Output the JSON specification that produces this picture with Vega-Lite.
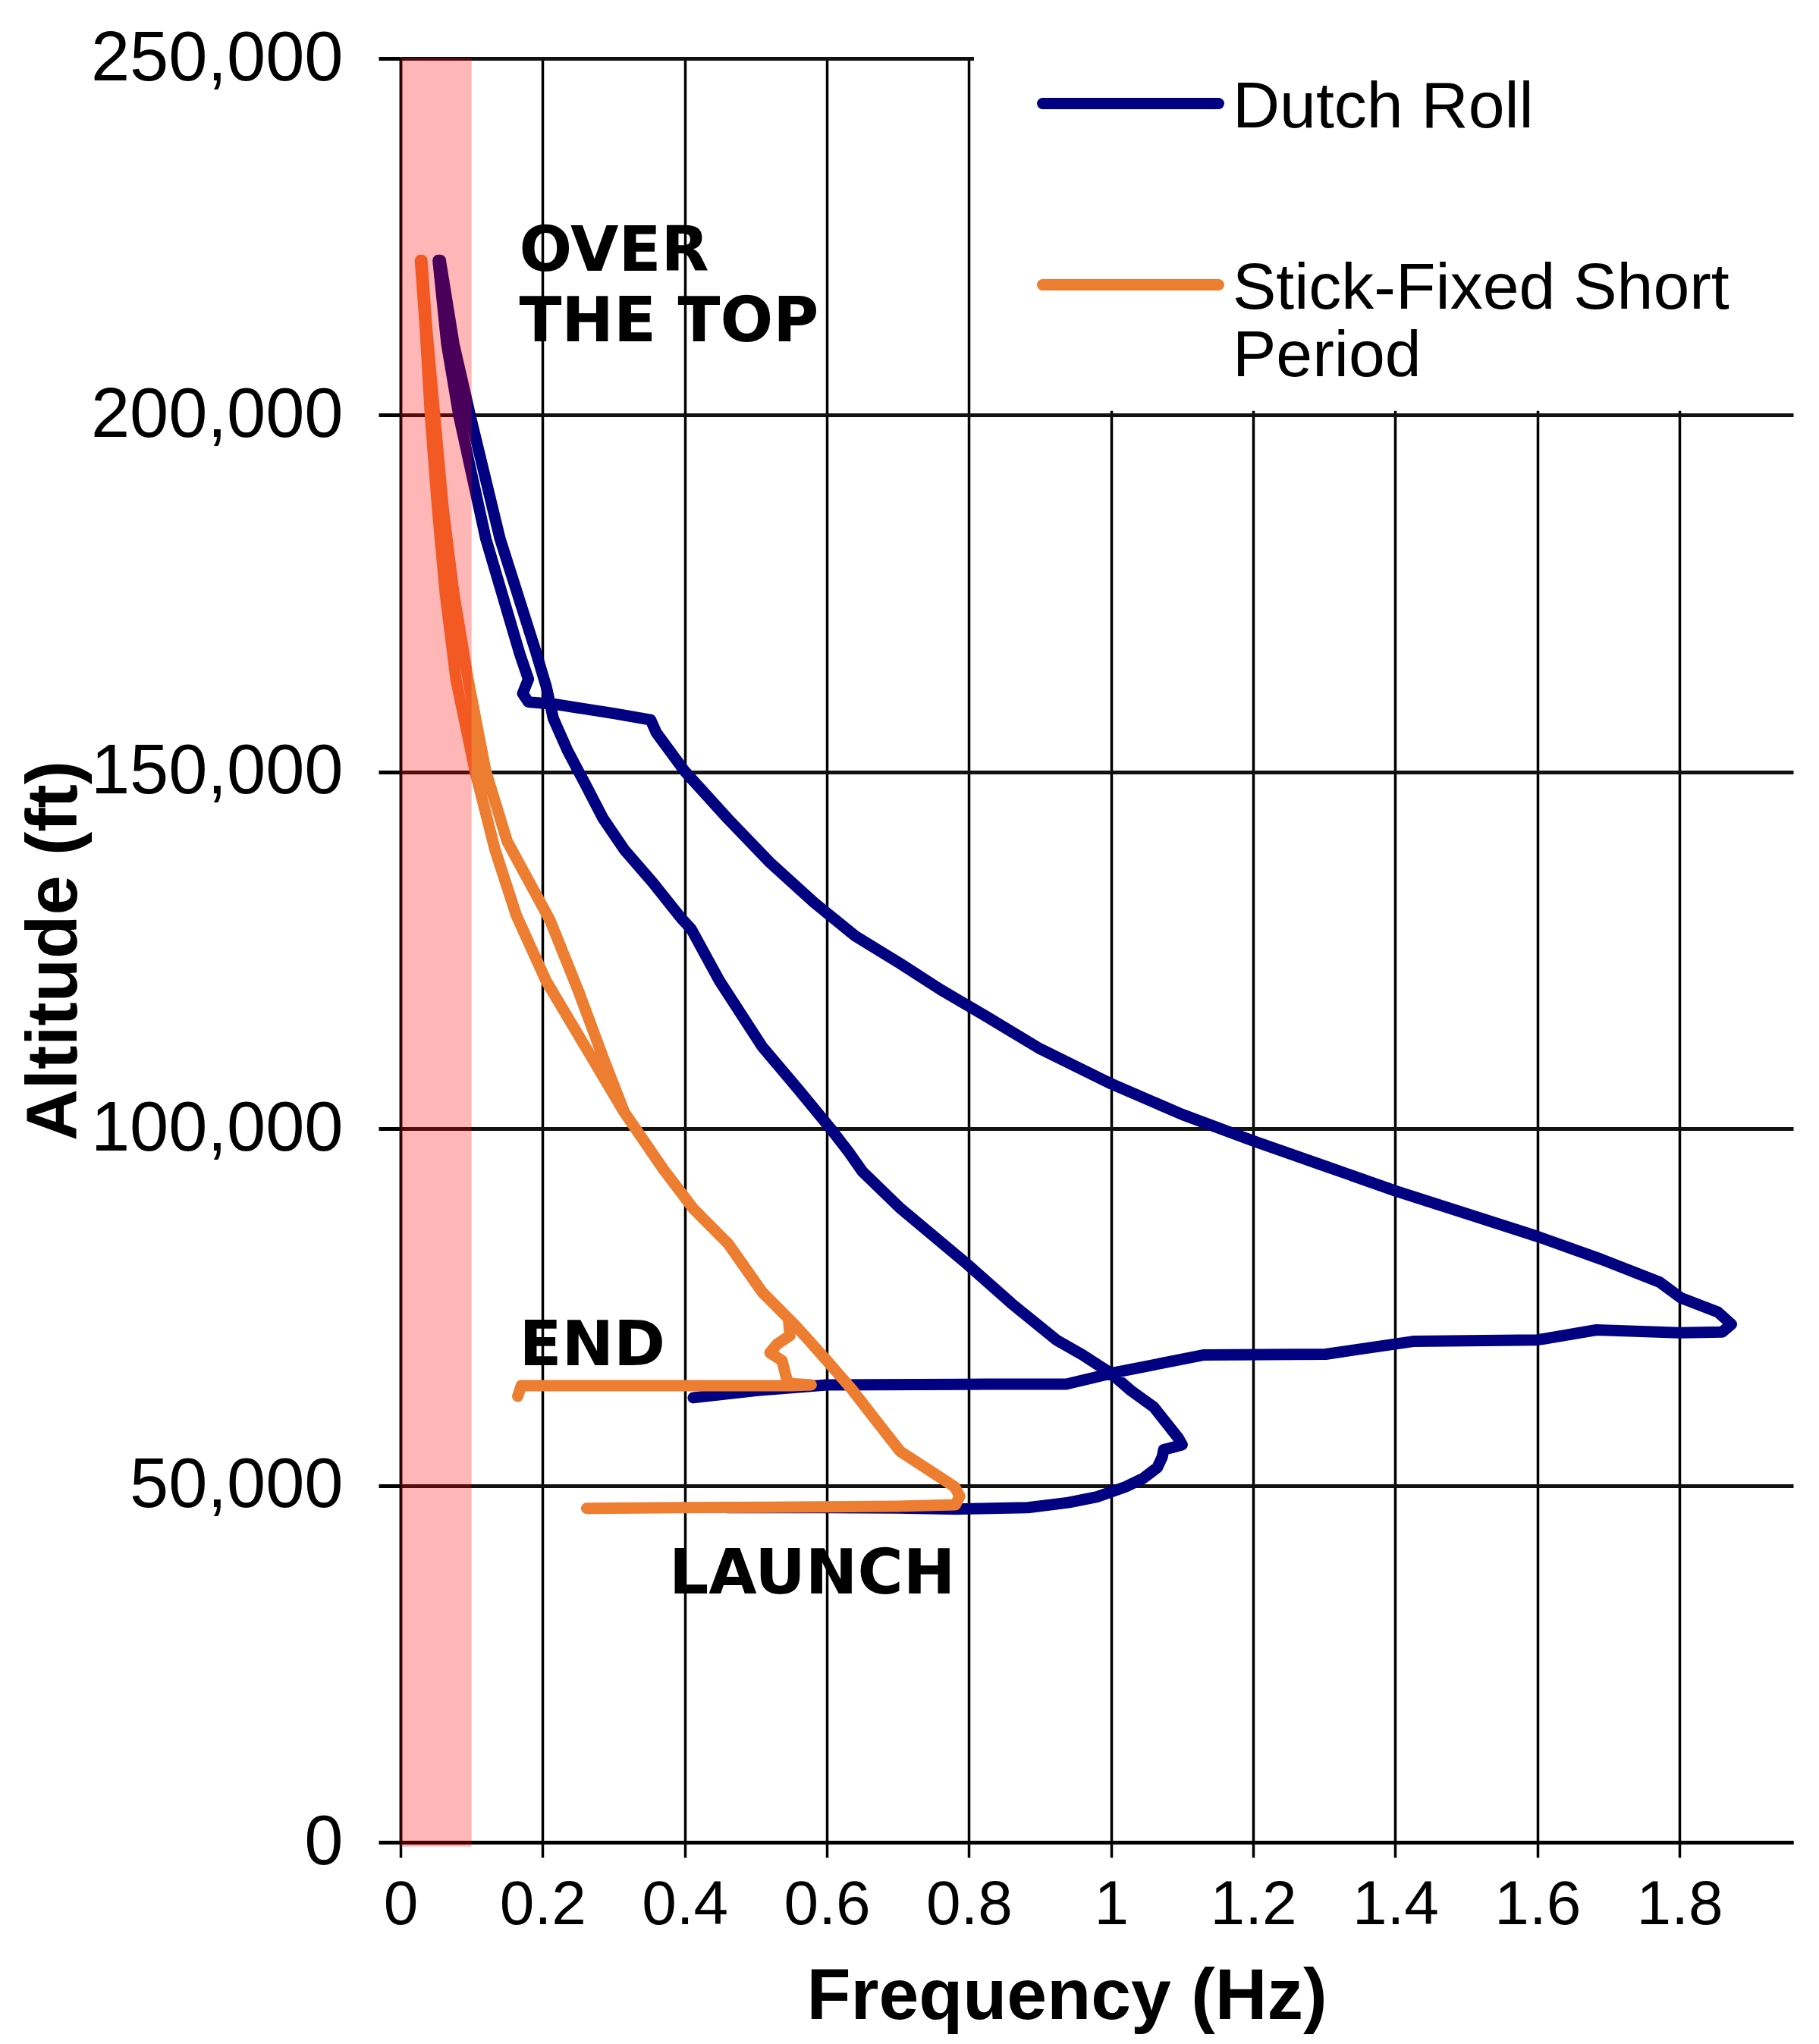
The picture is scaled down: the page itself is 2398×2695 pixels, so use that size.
{
  "$schema": "https://vega.github.io/schema/vega-lite/v6.json",
  "width": 1836,
  "height": 2352,
  "autosize": {"type": "none"},
  "padding": {"left": 528, "top": 77, "right": 34, "bottom": 266},
  "background": "white",
  "config": {"view": {"stroke": null}},
  "datasets": {
    "curves": [
      {"series": "Dutch Roll", "seq": 1, "freq": 0.46, "alt": 46900},
      {"series": "Dutch Roll", "seq": 2, "freq": 0.60, "alt": 46900},
      {"series": "Dutch Roll", "seq": 3, "freq": 0.70, "alt": 46850},
      {"series": "Dutch Roll", "seq": 4, "freq": 0.783, "alt": 46700},
      {"series": "Dutch Roll", "seq": 5, "freq": 0.883, "alt": 46900},
      {"series": "Dutch Roll", "seq": 6, "freq": 0.94, "alt": 47600},
      {"series": "Dutch Roll", "seq": 7, "freq": 0.98, "alt": 48400},
      {"series": "Dutch Roll", "seq": 8, "freq": 1.02, "alt": 49800},
      {"series": "Dutch Roll", "seq": 9, "freq": 1.045, "alt": 51000},
      {"series": "Dutch Roll", "seq": 10, "freq": 1.065, "alt": 52500},
      {"series": "Dutch Roll", "seq": 11, "freq": 1.072, "alt": 54000},
      {"series": "Dutch Roll", "seq": 12, "freq": 1.074, "alt": 55000},
      {"series": "Dutch Roll", "seq": 13, "freq": 1.085, "alt": 55300},
      {"series": "Dutch Roll", "seq": 14, "freq": 1.100, "alt": 55700},
      {"series": "Dutch Roll", "seq": 15, "freq": 1.095, "alt": 56600},
      {"series": "Dutch Roll", "seq": 16, "freq": 1.06, "alt": 61000},
      {"series": "Dutch Roll", "seq": 17, "freq": 1.028, "alt": 63300},
      {"series": "Dutch Roll", "seq": 18, "freq": 1.0, "alt": 65700},
      {"series": "Dutch Roll", "seq": 19, "freq": 0.96, "alt": 68300},
      {"series": "Dutch Roll", "seq": 20, "freq": 0.923, "alt": 70400},
      {"series": "Dutch Roll", "seq": 21, "freq": 0.86, "alt": 75500},
      {"series": "Dutch Roll", "seq": 22, "freq": 0.80, "alt": 80800},
      {"series": "Dutch Roll", "seq": 23, "freq": 0.704, "alt": 88800},
      {"series": "Dutch Roll", "seq": 24, "freq": 0.65, "alt": 94000},
      {"series": "Dutch Roll", "seq": 25, "freq": 0.631, "alt": 96700},
      {"series": "Dutch Roll", "seq": 26, "freq": 0.607, "alt": 99800},
      {"series": "Dutch Roll", "seq": 27, "freq": 0.56, "alt": 105500},
      {"series": "Dutch Roll", "seq": 28, "freq": 0.509, "alt": 111500},
      {"series": "Dutch Roll", "seq": 29, "freq": 0.449, "alt": 120700},
      {"series": "Dutch Roll", "seq": 30, "freq": 0.409, "alt": 128000},
      {"series": "Dutch Roll", "seq": 31, "freq": 0.395, "alt": 129500},
      {"series": "Dutch Roll", "seq": 32, "freq": 0.355, "alt": 134500},
      {"series": "Dutch Roll", "seq": 33, "freq": 0.315, "alt": 139100},
      {"series": "Dutch Roll", "seq": 34, "freq": 0.285, "alt": 143500},
      {"series": "Dutch Roll", "seq": 35, "freq": 0.26, "alt": 148300},
      {"series": "Dutch Roll", "seq": 36, "freq": 0.235, "alt": 153000},
      {"series": "Dutch Roll", "seq": 37, "freq": 0.215, "alt": 157500},
      {"series": "Dutch Roll", "seq": 38, "freq": 0.205, "alt": 162000},
      {"series": "Dutch Roll", "seq": 39, "freq": 0.19, "alt": 167000},
      {"series": "Dutch Roll", "seq": 40, "freq": 0.14, "alt": 182700},
      {"series": "Dutch Roll", "seq": 41, "freq": 0.098, "alt": 200000},
      {"series": "Dutch Roll", "seq": 42, "freq": 0.075, "alt": 210000},
      {"series": "Dutch Roll", "seq": 43, "freq": 0.056, "alt": 221700},
      {"series": "Dutch Roll", "seq": 44, "freq": 0.053, "alt": 221700},
      {"series": "Dutch Roll", "seq": 45, "freq": 0.065, "alt": 210000},
      {"series": "Dutch Roll", "seq": 46, "freq": 0.082, "alt": 200000},
      {"series": "Dutch Roll", "seq": 47, "freq": 0.12, "alt": 182700},
      {"series": "Dutch Roll", "seq": 48, "freq": 0.168, "alt": 166500},
      {"series": "Dutch Roll", "seq": 49, "freq": 0.18, "alt": 163000},
      {"series": "Dutch Roll", "seq": 50, "freq": 0.172, "alt": 161000},
      {"series": "Dutch Roll", "seq": 51, "freq": 0.18, "alt": 159800},
      {"series": "Dutch Roll", "seq": 52, "freq": 0.217, "alt": 159500},
      {"series": "Dutch Roll", "seq": 53, "freq": 0.30, "alt": 158200},
      {"series": "Dutch Roll", "seq": 54, "freq": 0.352, "alt": 157300},
      {"series": "Dutch Roll", "seq": 55, "freq": 0.36, "alt": 155500},
      {"series": "Dutch Roll", "seq": 56, "freq": 0.40, "alt": 150100},
      {"series": "Dutch Roll", "seq": 57, "freq": 0.461, "alt": 143400},
      {"series": "Dutch Roll", "seq": 58, "freq": 0.52, "alt": 137300},
      {"series": "Dutch Roll", "seq": 59, "freq": 0.582, "alt": 131700},
      {"series": "Dutch Roll", "seq": 60, "freq": 0.64, "alt": 127000},
      {"series": "Dutch Roll", "seq": 61, "freq": 0.704, "alt": 123100},
      {"series": "Dutch Roll", "seq": 62, "freq": 0.76, "alt": 119500},
      {"series": "Dutch Roll", "seq": 63, "freq": 0.825, "alt": 115700},
      {"series": "Dutch Roll", "seq": 64, "freq": 0.90, "alt": 111200},
      {"series": "Dutch Roll", "seq": 65, "freq": 1.0, "alt": 106300},
      {"series": "Dutch Roll", "seq": 66, "freq": 1.1, "alt": 102000},
      {"series": "Dutch Roll", "seq": 67, "freq": 1.2, "alt": 98300},
      {"series": "Dutch Roll", "seq": 68, "freq": 1.3, "alt": 94800},
      {"series": "Dutch Roll", "seq": 69, "freq": 1.4, "alt": 91300},
      {"series": "Dutch Roll", "seq": 70, "freq": 1.5, "alt": 88100},
      {"series": "Dutch Roll", "seq": 71, "freq": 1.6, "alt": 84900},
      {"series": "Dutch Roll", "seq": 72, "freq": 1.69, "alt": 81700},
      {"series": "Dutch Roll", "seq": 73, "freq": 1.772, "alt": 78500},
      {"series": "Dutch Roll", "seq": 74, "freq": 1.802, "alt": 76300},
      {"series": "Dutch Roll", "seq": 75, "freq": 1.854, "alt": 74300},
      {"series": "Dutch Roll", "seq": 76, "freq": 1.873, "alt": 72600},
      {"series": "Dutch Roll", "seq": 77, "freq": 1.86, "alt": 71500},
      {"series": "Dutch Roll", "seq": 78, "freq": 1.80, "alt": 71400},
      {"series": "Dutch Roll", "seq": 79, "freq": 1.683, "alt": 71800},
      {"series": "Dutch Roll", "seq": 80, "freq": 1.6, "alt": 70400},
      {"series": "Dutch Roll", "seq": 81, "freq": 1.425, "alt": 70200},
      {"series": "Dutch Roll", "seq": 82, "freq": 1.302, "alt": 68400},
      {"series": "Dutch Roll", "seq": 83, "freq": 1.131, "alt": 68300},
      {"series": "Dutch Roll", "seq": 84, "freq": 1.004, "alt": 65800},
      {"series": "Dutch Roll", "seq": 85, "freq": 0.937, "alt": 64200},
      {"series": "Dutch Roll", "seq": 86, "freq": 0.825, "alt": 64200},
      {"series": "Dutch Roll", "seq": 87, "freq": 0.60, "alt": 64100},
      {"series": "Dutch Roll", "seq": 88, "freq": 0.50, "alt": 63300},
      {"series": "Dutch Roll", "seq": 89, "freq": 0.412, "alt": 62300},

      {"series": "Stick-Fixed Short Period", "seq": 1, "freq": 0.262, "alt": 46800},
      {"series": "Stick-Fixed Short Period", "seq": 2, "freq": 0.40, "alt": 46900},
      {"series": "Stick-Fixed Short Period", "seq": 3, "freq": 0.60, "alt": 47000},
      {"series": "Stick-Fixed Short Period", "seq": 4, "freq": 0.70, "alt": 47100},
      {"series": "Stick-Fixed Short Period", "seq": 5, "freq": 0.781, "alt": 47300},
      {"series": "Stick-Fixed Short Period", "seq": 6, "freq": 0.787, "alt": 48500},
      {"series": "Stick-Fixed Short Period", "seq": 7, "freq": 0.78, "alt": 49800},
      {"series": "Stick-Fixed Short Period", "seq": 8, "freq": 0.757, "alt": 51300},
      {"series": "Stick-Fixed Short Period", "seq": 9, "freq": 0.703, "alt": 54800},
      {"series": "Stick-Fixed Short Period", "seq": 10, "freq": 0.67, "alt": 59000},
      {"series": "Stick-Fixed Short Period", "seq": 11, "freq": 0.635, "alt": 63500},
      {"series": "Stick-Fixed Short Period", "seq": 12, "freq": 0.60, "alt": 67500},
      {"series": "Stick-Fixed Short Period", "seq": 13, "freq": 0.575, "alt": 70300},
      {"series": "Stick-Fixed Short Period", "seq": 14, "freq": 0.555, "alt": 72500},
      {"series": "Stick-Fixed Short Period", "seq": 15, "freq": 0.509, "alt": 77100},
      {"series": "Stick-Fixed Short Period", "seq": 16, "freq": 0.461, "alt": 83900},
      {"series": "Stick-Fixed Short Period", "seq": 17, "freq": 0.412, "alt": 88800},
      {"series": "Stick-Fixed Short Period", "seq": 18, "freq": 0.37, "alt": 94300},
      {"series": "Stick-Fixed Short Period", "seq": 19, "freq": 0.315, "alt": 102300},
      {"series": "Stick-Fixed Short Period", "seq": 20, "freq": 0.285, "alt": 110000},
      {"series": "Stick-Fixed Short Period", "seq": 21, "freq": 0.25, "alt": 119400},
      {"series": "Stick-Fixed Short Period", "seq": 22, "freq": 0.21, "alt": 129300},
      {"series": "Stick-Fixed Short Period", "seq": 23, "freq": 0.15, "alt": 140300},
      {"series": "Stick-Fixed Short Period", "seq": 24, "freq": 0.12, "alt": 150100},
      {"series": "Stick-Fixed Short Period", "seq": 25, "freq": 0.095, "alt": 163000},
      {"series": "Stick-Fixed Short Period", "seq": 26, "freq": 0.075, "alt": 175000},
      {"series": "Stick-Fixed Short Period", "seq": 27, "freq": 0.06, "alt": 187000},
      {"series": "Stick-Fixed Short Period", "seq": 28, "freq": 0.048, "alt": 200000},
      {"series": "Stick-Fixed Short Period", "seq": 29, "freq": 0.037, "alt": 212000},
      {"series": "Stick-Fixed Short Period", "seq": 30, "freq": 0.030, "alt": 221700},
      {"series": "Stick-Fixed Short Period", "seq": 31, "freq": 0.028, "alt": 221700},
      {"series": "Stick-Fixed Short Period", "seq": 32, "freq": 0.035, "alt": 212000},
      {"series": "Stick-Fixed Short Period", "seq": 33, "freq": 0.042, "alt": 200000},
      {"series": "Stick-Fixed Short Period", "seq": 34, "freq": 0.052, "alt": 187000},
      {"series": "Stick-Fixed Short Period", "seq": 35, "freq": 0.063, "alt": 175000},
      {"series": "Stick-Fixed Short Period", "seq": 36, "freq": 0.078, "alt": 163000},
      {"series": "Stick-Fixed Short Period", "seq": 37, "freq": 0.105, "alt": 150100},
      {"series": "Stick-Fixed Short Period", "seq": 38, "freq": 0.133, "alt": 139100},
      {"series": "Stick-Fixed Short Period", "seq": 39, "freq": 0.163, "alt": 129900},
      {"series": "Stick-Fixed Short Period", "seq": 40, "freq": 0.205, "alt": 120700},
      {"series": "Stick-Fixed Short Period", "seq": 41, "freq": 0.26, "alt": 111500},
      {"series": "Stick-Fixed Short Period", "seq": 42, "freq": 0.315, "alt": 102300},
      {"series": "Stick-Fixed Short Period", "seq": 43, "freq": 0.37, "alt": 94300},
      {"series": "Stick-Fixed Short Period", "seq": 44, "freq": 0.412, "alt": 88800},
      {"series": "Stick-Fixed Short Period", "seq": 45, "freq": 0.461, "alt": 83900},
      {"series": "Stick-Fixed Short Period", "seq": 46, "freq": 0.509, "alt": 77100},
      {"series": "Stick-Fixed Short Period", "seq": 47, "freq": 0.546, "alt": 73400},
      {"series": "Stick-Fixed Short Period", "seq": 48, "freq": 0.548, "alt": 71000},
      {"series": "Stick-Fixed Short Period", "seq": 49, "freq": 0.53, "alt": 69800},
      {"series": "Stick-Fixed Short Period", "seq": 50, "freq": 0.52, "alt": 68600},
      {"series": "Stick-Fixed Short Period", "seq": 51, "freq": 0.537, "alt": 67500},
      {"series": "Stick-Fixed Short Period", "seq": 52, "freq": 0.542, "alt": 65500},
      {"series": "Stick-Fixed Short Period", "seq": 53, "freq": 0.546, "alt": 64300},
      {"series": "Stick-Fixed Short Period", "seq": 54, "freq": 0.578, "alt": 64100},
      {"series": "Stick-Fixed Short Period", "seq": 55, "freq": 0.55, "alt": 64000},
      {"series": "Stick-Fixed Short Period", "seq": 56, "freq": 0.40, "alt": 64000},
      {"series": "Stick-Fixed Short Period", "seq": 57, "freq": 0.25, "alt": 64000},
      {"series": "Stick-Fixed Short Period", "seq": 58, "freq": 0.17, "alt": 64000},
      {"series": "Stick-Fixed Short Period", "seq": 59, "freq": 0.165, "alt": 62500}
    ],
    "notes": [
      {"label": "OVER\nTHE TOP", "freq": 0.167, "alt": 220200},
      {"label": "END", "freq": 0.167, "alt": 66900},
      {"label": "LAUNCH", "freq": 0.378, "alt": 34900}
    ]
  },
  "layer": [
    {
      "data": {"values": [{}]},
      "mark": {"type": "rect", "fill": "white"},
      "encoding": {
        "x": {"datum": 0.807, "type": "quantitative", "scale": {"domain": [0, 1.96], "nice": false, "zero": false}},
        "x2": {"datum": 2.0},
        "y": {"datum": 200600, "type": "quantitative", "scale": {"domain": [0, 250000], "nice": false}},
        "y2": {"datum": 252000}
      }
    },
    {
      "data": {"name": "curves"},
      "mark": {"type": "line", "strokeWidth": 15, "strokeCap": "round", "strokeJoin": "round", "interpolate": "linear"},
      "encoding": {
        "x": {
          "field": "freq", "type": "quantitative",
          "scale": {"domain": [0, 1.96], "nice": false, "zero": false},
          "axis": {
            "values": [0, 0.2, 0.4, 0.6, 0.8, 1, 1.2, 1.4, 1.6, 1.8],
            "format": "~g",
            "labelFont": "Liberation Sans", "labelFontSize": 82, "labelColor": "black",
            "labelPadding": 22, "tickSize": 20, "tickColor": "black", "tickWidth": 3.5,
            "labelFlush": false, "labelOverlap": false, "labelLimit": 1000,
            "domainColor": "black", "domainWidth": 5,
            "grid": true, "gridColor": "black", "gridWidth": 3.5, "gridOpacity": 1,
            "title": "Frequency (Hz)", "titleFont": "Liberation Sans", "titleFontSize": 95,
            "titleFontWeight": "bold", "titleColor": "black",
            "titleX": 878, "titleY": 232, "titleBaseline": "alphabetic", "titleAlign": "center"
          }
        },
        "y": {
          "field": "alt", "type": "quantitative",
          "scale": {"domain": [0, 250000], "nice": false},
          "axis": {
            "values": [0, 50000, 100000, 150000, 200000, 250000],
            "format": ",.0f",
            "labelFont": "Liberation Sans", "labelFontSize": 92, "labelColor": "black",
            "labelPadding": 47, "tickSize": 29, "tickColor": "black", "tickWidth": 5,
            "labelFlush": false, "labelOverlap": false, "labelLimit": 1000,
            "domainColor": "black", "domainWidth": 3.5,
            "grid": true, "gridColor": "#111111", "gridWidth": 5, "gridOpacity": 1,
            "title": "Altitude (ft)", "titleFont": "Liberation Sans", "titleFontSize": 94,
            "titleFontWeight": "bold", "titleColor": "black", "titleAngle": -90,
            "titleX": -428, "titleY": 1176, "titleBaseline": "alphabetic", "titleAlign": "center"
          }
        },
        "color": {
          "field": "series", "type": "nominal",
          "scale": {"domain": ["Dutch Roll", "Stick-Fixed Short Period"], "range": ["#000080", "#ED7D31"]},
          "legend": {
            "orient": "none", "legendX": 839, "legendY": -64, "title": null,
            "padding": 0, "symbolType": "stroke", "symbolSize": 53824, "symbolStrokeWidth": 15,
            "labelFont": "Liberation Sans", "labelFontSize": 86, "labelColor": "black",
            "labelOffset": 11, "rowPadding": 67, "labelLimit": 0, "labelBaseline": "top",
            "labelExpr": "datum.label == 'Stick-Fixed Short Period' ? ['Stick-Fixed Short', 'Period'] : datum.label",
            "encode": {
              "labels": {"update": {"dy": {"value": -37}, "lineHeight": {"value": 89}}},
              "symbols": {"update": {"strokeCap": {"value": "round"}}}
            }
          }
        },
        "order": {"field": "seq", "type": "quantitative"}
      }
    },
    {
      "data": {"name": "notes"},
      "mark": {"type": "text", "align": "left", "baseline": "alphabetic", "font": "DejaVu Sans", "fontWeight": "bold", "fontSize": 82, "lineBreak": "\n", "lineHeight": 93, "color": "black"},
      "encoding": {
        "x": {"field": "freq", "type": "quantitative"},
        "y": {"field": "alt", "type": "quantitative"},
        "text": {"field": "label"}
      }
    },
    {
      "data": {"values": [{}]},
      "mark": {"type": "rect", "fill": "#ff0000", "opacity": 0.285},
      "encoding": {
        "x": {"datum": 0, "type": "quantitative"},
        "x2": {"datum": 0.1},
        "y": {"datum": -600, "type": "quantitative"},
        "y2": {"datum": 250000}
      }
    }
  ]
}
